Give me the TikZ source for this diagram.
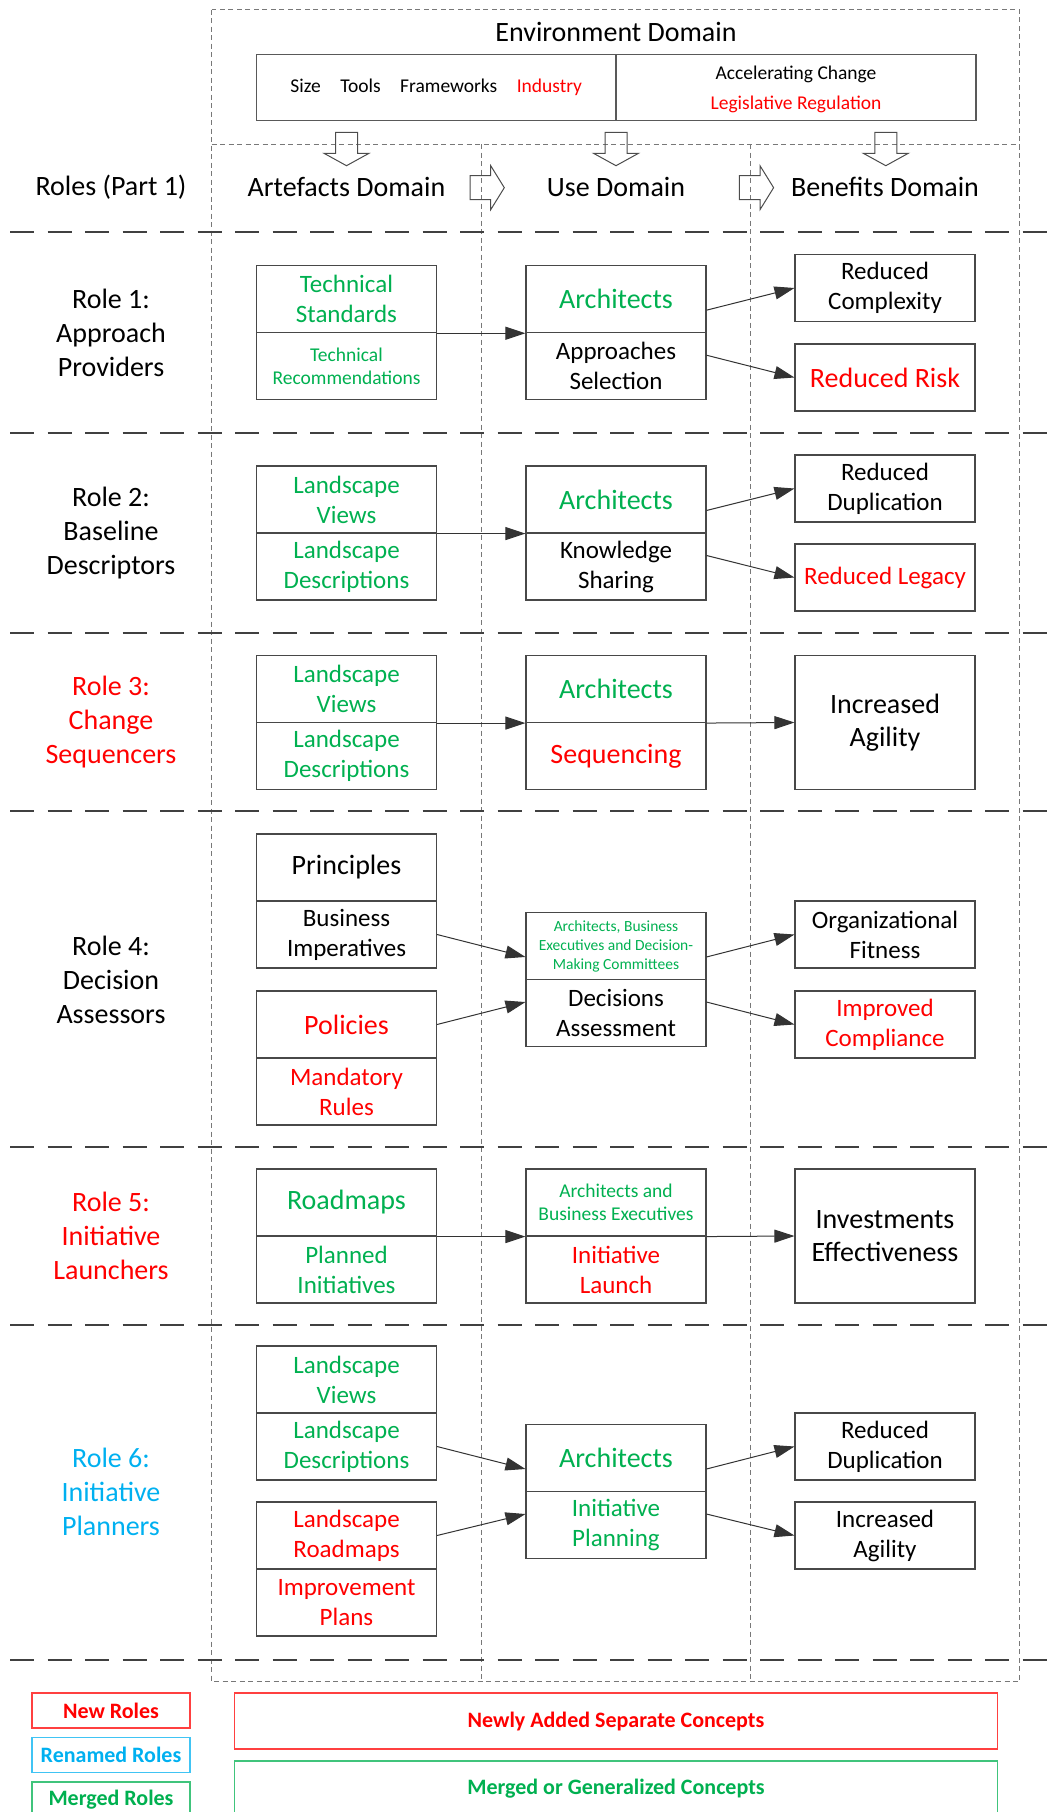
\documentclass[tikz,border=0pt]{standalone}
\usepackage{fontspec}
\setmainfont{Carlito}
\usetikzlibrary{arrows.meta,calc}
\definecolor{gr}{RGB}{0,176,80}
\definecolor{rd}{RGB}{255,0,0}
\definecolor{bl}{RGB}{0,176,240}
\definecolor{boxline}{RGB}{72,72,72}
\definecolor{dashgray}{RGB}{120,120,120}
\begin{document}
\begin{tikzpicture}[x=1pt,y=-1pt,
  lg/.style={font=\fontsize{28}{33.6}\selectfont},
  md/.style={font=\fontsize{25}{30}\selectfont},
  sm/.style={font=\fontsize{19.5}{23.5}\selectfont},
  xs/.style={font=\fontsize{15.5}{19}\selectfont},
  half/.style={draw=boxline, line width=1.1pt, minimum width=180pt, minimum height=67pt, inner sep=0pt, align=center},
  full/.style={half, minimum height=134pt},
  role/.style={font=\fontsize{28}{34}\selectfont, align=center},
  conn/.style={draw=black!80, line width=1pt, -{Triangle[length=20pt,width=13pt]}},
  fine/.style={draw=dashgray, line width=1pt, dash pattern=on 5pt off 3.5pt},
  sep/.style={draw=black!75, line width=2pt, dash pattern=on 24pt off 13.5pt},
  blk/.style={draw=black!70, line width=1pt},
  legsmall/.style={line width=1.2pt, minimum width=158pt, minimum height=35pt, inner sep=0pt, font=\fontsize{22}{26}\bfseries\selectfont},
  legbig/.style={line width=1.2pt, minimum width=762.5pt, minimum height=56pt, inner sep=0pt, font=\fontsize{22}{26}\bfseries\selectfont},
  downblk/.pic={\draw[blk] (-11,0) -- (11,0) -- (11,21) -- (22.5,21) -- (0,33.4) -- (-22.5,21) -- (-11,21) -- cycle;},
  rightblk/.pic={\draw[blk] (0,-12) -- (20.7,-12) -- (20.7,-22) -- (34.3,0) -- (20.7,22) -- (20.7,12) -- (0,12) -- cycle;}
]
\useasboundingbox (0,0) rectangle (1049,1812);

% ---- domain frames ----
\draw[fine] (211.5,9.5) rectangle (1019.5,1681.5);
\draw[fine] (211.5,144) -- (1019.5,144);
\draw[fine] (481.5,144) -- (481.5,1681.5);
\draw[fine] (750.5,144) -- (750.5,1681.5);

% ---- environment domain ----
\node[lg] (envt) at (616,32) {Environment Domain};
\node[draw=black!65, line width=1.2pt, minimum width=359.5pt, minimum height=66pt, inner sep=0pt, sm] (envl) at (436.25,87.25)
  {Size\quad Tools\quad Frameworks\quad \textcolor{rd}{Industry}};
\node[draw=black!65, line width=1.2pt, minimum width=360pt, minimum height=66pt, inner sep=0pt] (envr) at (796,87.25) {};
\node[sm] (envr1) at (796,74) {Accelerating Change};
\node[sm, text=rd] (envr2) at (796,104) {Legislative Regulation};

\pic at (346.5,132.3) {downblk};
\pic at (616,132.3) {downblk};
\pic at (885.8,132.3) {downblk};
\pic at (470,187.7) {rightblk};
\pic at (739.3,187.7) {rightblk};

\node[lg] (rolesh) at (111,187) {Roles (Part 1)};
\node[lg] (arth) at (346.5,187) {Artefacts Domain};
\node[lg] (useh) at (616,187) {Use Domain};
\node[lg] (benh) at (885,187) {Benefits Domain};

% ---- role separators ----
\foreach \yy in {232.2,433.2,633.1,811,1147.2,1325.1,1660.2}
  \draw[sep] (10,\yy) -- (1049,\yy);

% ---- Role 1 ----
\node[role] (role1) at (111,332.7) {Role 1:\\Approach\\Providers};
\node[half, md, text=gr] (r1at) at (346.5,299.2) {Technical\\Standards};
\node[half, sm, text=gr] (r1ab) at (346.5,366.2) {Technical\\Recommendations};
\node[half, lg, text=gr] (r1ut) at (616,299.2) {Architects};
\node[half, md] (r1ub) at (616,366.2) {Approaches\\Selection};
\node[half, md] (r1b1) at (885,288) {Reduced\\Complexity};
\node[half, lg, text=rd] (r1b2) at (885,377.5) {Reduced Risk};
\draw[conn] (r1at.south east) -- (r1ut.south west);
\draw[conn] ($(r1ut.north east)!0.3333!(r1ub.south east)$) -- (r1b1.west);
\draw[conn] ($(r1ut.north east)!0.6667!(r1ub.south east)$) -- (r1b2.west);

% ---- Role 2 ----
\node[role] (role2) at (111,533) {Role 2:\\Baseline\\Descriptors};
\node[half, md, text=gr] (r2at) at (346.5,499.5) {Landscape\\Views};
\node[half, md, text=gr] (r2ab) at (346.5,566.5) {Landscape\\Descriptions};
\node[half, lg, text=gr] (r2ut) at (616,499.5) {Architects};
\node[half, md] (r2ub) at (616,566.5) {Knowledge\\Sharing};
\node[half, md] (r2b1) at (885,488.5) {Reduced\\Duplication};
\node[half, md, text=rd] (r2b2) at (885,577.5) {Reduced Legacy};
\draw[conn] (r2at.south east) -- (r2ut.south west);
\draw[conn] ($(r2ut.north east)!0.3333!(r2ub.south east)$) -- (r2b1.west);
\draw[conn] ($(r2ut.north east)!0.6667!(r2ub.south east)$) -- (r2b2.west);

% ---- Role 3 ----
\node[role, text=rd] (role3) at (111,722.5) {Role 3:\\Change\\Sequencers};
\node[half, md, text=gr] (r3at) at (346.5,689) {Landscape\\Views};
\node[half, md, text=gr] (r3ab) at (346.5,756) {Landscape\\Descriptions};
\node[half, lg, text=gr] (r3ut) at (616,689) {Architects};
\node[half, lg, text=rd] (r3ub) at (616,756) {Sequencing};
\node[full, lg] (r3b) at (885,722.5) {Increased\\Agility};
\draw[conn] (r3at.south east) -- (r3ut.south west);
\draw[conn] (r3ut.south east) -- (r3b.west);

% ---- Role 4 ----
\node[role] (role4) at (111,979.5) {Role 4:\\Decision\\Assessors};
\node[half, lg] (r4a1t) at (346.5,867.5) {Principles};
\node[half, md] (r4a1b) at (346.5,934.5) {Business\\Imperatives};
\node[half, lg, text=rd] (r4a2t) at (346.5,1024.5) {Policies};
\node[half, md, text=rd] (r4a2b) at (346.5,1091.5) {Mandatory\\Rules};
\node[half, xs, text=gr] (r4ut) at (616,946) {Architects, Business\\Executives and Decision-\\Making Committees};
\node[half, md] (r4ub) at (616,1013) {Decisions\\Assessment};
\node[half, md] (r4b1) at (885,934.5) {Organizational\\Fitness};
\node[half, md, text=rd] (r4b2) at (885,1024.5) {Improved\\Compliance};
\draw[conn] (r4a1b.east) -- ($(r4ut.north west)!0.3333!(r4ub.south west)$);
\draw[conn] (r4a2t.east) -- ($(r4ut.north west)!0.6667!(r4ub.south west)$);
\draw[conn] ($(r4ut.north east)!0.3333!(r4ub.south east)$) -- (r4b1.west);
\draw[conn] ($(r4ut.north east)!0.6667!(r4ub.south east)$) -- (r4b2.west);

% ---- Role 5 ----
\node[role, text=rd] (role5) at (111,1236) {Role 5:\\Initiative\\Launchers};
\node[half, lg, text=gr] (r5at) at (346.5,1202.5) {Roadmaps};
\node[half, md, text=gr] (r5ab) at (346.5,1269.5) {Planned\\Initiatives};
\node[half, sm, text=gr] (r5ut) at (616,1202.5) {Architects and\\Business Executives};
\node[half, md, text=rd] (r5ub) at (616,1269.5) {Initiative\\Launch};
\node[full, lg] (r5b) at (885,1236) {Investments\\Effectiveness};
\draw[conn] (r5at.south east) -- (r5ut.south west);
\draw[conn] (r5ut.south east) -- (r5b.west);

% ---- Role 6 ----
\node[role, text=bl] (role6) at (111,1491.5) {Role 6:\\Initiative\\Planners};
\node[half, md, text=gr] (r6a1t) at (346.5,1379.5) {Landscape\\Views};
\node[half, md, text=gr] (r6a1b) at (346.5,1446.5) {Landscape\\Descriptions};
\node[half, md, text=rd] (r6a2t) at (346.5,1535.5) {Landscape\\Roadmaps};
\node[half, md, text=rd] (r6a2b) at (346.5,1602.5) {Improvement\\Plans};
\node[half, lg, text=gr] (r6ut) at (616,1458) {Architects};
\node[half, md, text=gr] (r6ub) at (616,1525) {Initiative\\Planning};
\node[half, md] (r6b1) at (885,1446.5) {Reduced\\Duplication};
\node[half, md] (r6b2) at (885,1535.5) {Increased\\Agility};
\draw[conn] (r6a1b.east) -- ($(r6ut.north west)!0.3333!(r6ub.south west)$);
\draw[conn] (r6a2t.east) -- ($(r6ut.north west)!0.6667!(r6ub.south west)$);
\draw[conn] ($(r6ut.north east)!0.3333!(r6ub.south east)$) -- (r6b1.west);
\draw[conn] ($(r6ut.north east)!0.6667!(r6ub.south east)$) -- (r6b2.west);

% ---- legend ----
\node[legsmall, draw=rd!75, text=rd] (lnew) at (111,1710.5) {New Roles};
\node[legsmall, draw=bl!75, text=bl] (lren) at (111,1755) {Renamed Roles};
\node[legsmall, draw=gr!75, text=gr] (lmer) at (111,1799.5) {Merged Roles};
\node[legbig, draw=rd!75, text=rd] (lsep) at (616,1721) {Newly Added Separate Concepts};
\node[legbig, draw=gr!75, text=gr] (lgen) at (616,1789) {Merged or Generalized Concepts};
\end{tikzpicture}
\end{document}
